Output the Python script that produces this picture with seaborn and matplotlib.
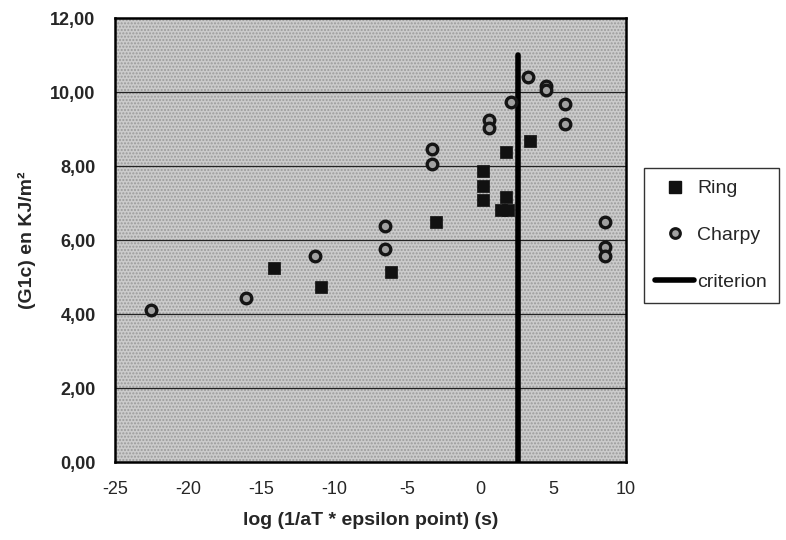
import numpy as np
import pandas as pd
import seaborn as sns
import matplotlib.pyplot as plt
from matplotlib.lines import Line2D
from matplotlib.ticker import FuncFormatter

# data (corrected for the slight scan rotation)
ring_x = [-14.1, -10.9, -6.1, -3.0, 0.2, 0.2, 0.2, 1.8, 1.8, 1.45, 1.95, 3.4]
ring_y = [5.24, 4.73, 5.15, 6.50, 7.87, 7.45, 7.09, 8.37, 7.17, 6.81, 6.81, 8.67]

charpy_x = [-22.5, -16.0, -11.3, -6.5, -6.5, -3.3, -3.3, 0.6, 0.6, 2.1, 3.3,
            4.5, 4.5, 5.8, 5.8, 8.6, 8.6, 8.6]
charpy_y = [4.10, 4.43, 5.57, 6.38, 5.76, 8.46, 8.07, 9.25, 9.03, 9.74, 10.41,
            10.17, 10.07, 9.68, 9.14, 6.50, 5.80, 5.56]

crit_x = [2.6, 2.6]
crit_y = [0.0, 11.0]

ring = pd.DataFrame({'x': ring_x, 'y': ring_y})
charpy = pd.DataFrame({'x': charpy_x, 'y': charpy_y})
crit = pd.DataFrame({'x': crit_x, 'y': crit_y})

sns.set_style('white')
plt.rcParams['font.family'] = ['Liberation Sans', 'DejaVu Sans']
plt.rcParams['axes.unicode_minus'] = False

fig = plt.figure(figsize=(7.86, 5.4), dpi=100)
ax = fig.add_axes([0.1463, 0.1444, 0.650, 0.822])
ax.set_facecolor('#cbcbcb')
# stippled background like the original
ax.add_patch(plt.Rectangle((0, 0), 1, 1, transform=ax.transAxes, facecolor='none',
                           edgecolor='#9a9a9a', hatch='.....', linewidth=0, zorder=0))

for yv in [2, 4, 6, 8, 10]:
    ax.axhline(yv, color='#222222', lw=0.9, zorder=1)

sns.lineplot(data=crit, x='x', y='y', estimator=None, sort=False, color='black',
             lw=4, ax=ax, zorder=3)
sns.scatterplot(data=ring, x='x', y='y', marker='s', s=66, color='#111111',
                edgecolor='#111111', linewidth=0.5, ax=ax, zorder=4)
sns.scatterplot(data=charpy, x='x', y='y', marker='o', s=58, color='#a0a0a0',
                edgecolor='#151515', linewidth=2.4, ax=ax, zorder=4)

ax.set_xlim(-25, 10)
ax.set_ylim(0, 12)
ax.set_xticks(range(-25, 11, 5))
ax.set_yticks(range(0, 13, 2))
ax.yaxis.set_major_formatter(FuncFormatter(lambda v, p: f'{v:.2f}'.replace('.', ',')))
ax.tick_params(axis='x', labelsize=13, length=4, direction='out', width=1, pad=10)
ax.tick_params(axis='y', labelsize=13, length=9, direction='out', width=1, pad=5)
for lab in ax.get_yticklabels():
    lab.set_fontweight('bold')
for sp in ax.spines.values():
    sp.set_color('black')
    sp.set_linewidth(1.8)

ax.set_xlabel('log (1/aT * epsilon point) (s)', fontsize=14, fontweight='bold', labelpad=10)
ax.set_ylabel('(G1c) en KJ/m²', fontsize=14, fontweight='bold', labelpad=10)

handles = [
    Line2D([], [], marker='s', ls='none', color='#111111', markersize=8),
    Line2D([], [], marker='o', ls='none', markerfacecolor='#a0a0a0',
           markeredgecolor='#151515', markeredgewidth=2.2, markersize=7),
    Line2D([], [], color='black', lw=4),
]
leg = ax.legend(handles, ['Ring', 'Charpy', 'criterion'], loc='upper left',
                bbox_to_anchor=(1.035, 0.662), fontsize=14, frameon=True, fancybox=False,
                edgecolor='black', handlelength=2.0, handletextpad=0.15,
                labelspacing=1.5, borderpad=0.6, borderaxespad=0)
leg.get_frame().set_linewidth(1)

fig.savefig('out.png', dpi=100)
